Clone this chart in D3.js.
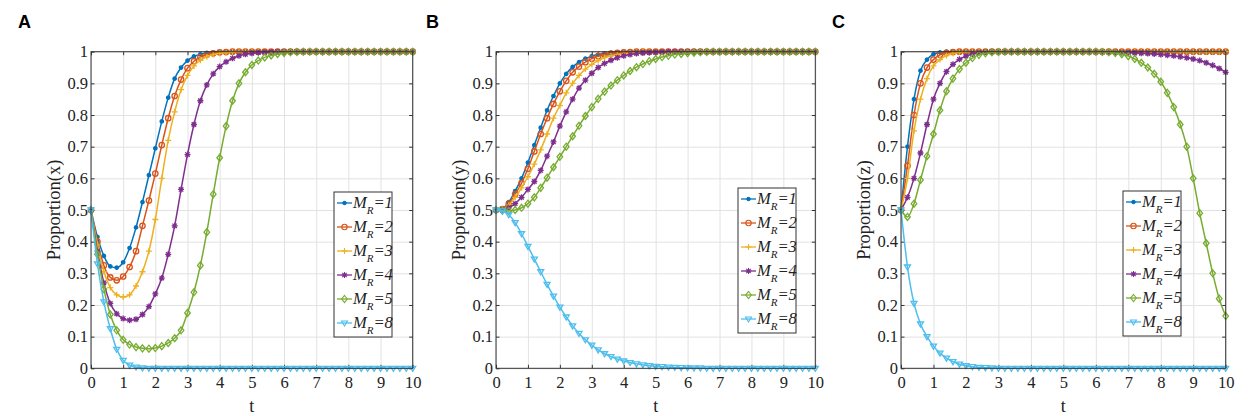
<!DOCTYPE html>
<html>
<head>
<meta charset="utf-8">
<script src="https://cdn.jsdelivr.net/npm/d3@7"></script>
<style>
  body { margin: 0; background: #fff; }
  svg { display: block; }
  .axis text { fill: #222; }
  .axis line { stroke: #333; }
  .axis .domain { display: none; }
  .grid line { stroke: #e2e2e2; }
  .grid .domain { display: none; }
</style>
</head>
<body>
<div id="chart"></div>
<script>
// time steps (t)
const T = [0,0.2,0.4,0.6,0.8,1,1.2,1.4,1.6,1.8,
  2,2.2,2.4,2.6,2.8,3,3.2,3.4,3.6,3.8,
  4,4.2,4.4,4.6,4.8,5,5.2,5.4,5.6,5.8,
  6,6.2,6.4,6.6,6.8,7,7.2,7.4,7.6,7.8,
  8,8.2,8.4,8.6,8.8,9,9.2,9.4,9.6,9.8,10];

const xTicks = [0,1,2,3,4,5,6,7,8,9,10];
const xTickLabels = ["0","1","2","3","4","5","6","7","8","9","10"];
const yTicks = [0,0.1,0.2,0.3,0.4,0.5,0.6,0.7,0.8,0.9,1];
const yTickLabels = ["0","0.1","0.2","0.3","0.4","0.5","0.6","0.7","0.8","0.9","1"];

const mrValues = ["1","2","3","4","5","8"];

// panel A : Proportion(x)
const A_M1 = [.5,.415,.355,.322,.318,.335,.38,.445,.525,.61,
  .695,.78,.855,.915,.95,.972,.985,.992,.996,.998,
  .999,1,1,1,1,1,1,1,1,1,
  1,1,1,1,1,1,1,1,1,1,
  1,1,1,1,1,1,1,1,1,1,1];
const A_M2 = [.5,.4,.325,.287,.278,.29,.32,.37,.45,.53,
  .615,.705,.79,.86,.912,.948,.97,.983,.991,.995,
  .998,.999,1,1,1,1,1,1,1,1,
  1,1,1,1,1,1,1,1,1,1,
  1,1,1,1,1,1,1,1,1,1,1];
const A_M3 = [.5,.39,.305,.255,.232,.225,.232,.26,.305,.37,
  .47,.6,.72,.81,.88,.925,.955,.973,.984,.991,
  .995,.997,.999,1,1,1,1,1,1,1,
  1,1,1,1,1,1,1,1,1,1,
  1,1,1,1,1,1,1,1,1,1,1];
const A_M4 = [.5,.37,.27,.205,.172,.157,.152,.155,.17,.195,
  .235,.285,.36,.45,.565,.675,.77,.845,.895,.93,
  .953,.968,.979,.987,.992,.995,.997,.998,.999,1,
  1,1,1,1,1,1,1,1,1,1,
  1,1,1,1,1,1,1,1,1,1,1];
const A_M5 = [.5,.36,.25,.17,.12,.09,.075,.067,.063,.062,
  .064,.07,.08,.095,.12,.175,.24,.325,.43,.55,
  .665,.765,.845,.9,.935,.958,.972,.982,.988,.993,
  .996,.998,.999,1,1,1,1,1,1,1,
  1,1,1,1,1,1,1,1,1,1,1];
const A_M8 = [.5,.33,.21,.125,.06,.025,.01,.004,.001,0,
  0,0,0,0,0,0,0,0,0,0,
  0,0,0,0,0,0,0,0,0,0,
  0,0,0,0,0,0,0,0,0,0,
  0,0,0,0,0,0,0,0,0,0,0];

// panel B : Proportion(y)
const B_M1 = [.5,.505,.525,.56,.6,.65,.705,.76,.815,.86,
  .9,.93,.952,.967,.978,.986,.991,.994,.996,.998,
  .999,1,1,1,1,1,1,1,1,1,
  1,1,1,1,1,1,1,1,1,1,
  1,1,1,1,1,1,1,1,1,1,1];
const B_M2 = [.5,.503,.52,.55,.585,.63,.685,.74,.79,.835,
  .875,.908,.935,.953,.967,.978,.986,.991,.994,.996,
  .998,.999,1,1,1,1,1,1,1,1,
  1,1,1,1,1,1,1,1,1,1,
  1,1,1,1,1,1,1,1,1,1,1];
const B_M3 = [.5,.502,.515,.54,.57,.605,.645,.69,.74,.79,
  .83,.87,.9,.925,.945,.96,.972,.981,.987,.991,
  .994,.996,.998,.999,1,1,1,1,1,1,
  1,1,1,1,1,1,1,1,1,1,
  1,1,1,1,1,1,1,1,1,1,1];
const B_M4 = [.5,.5,.507,.52,.54,.565,.59,.625,.67,.715,
  .765,.81,.85,.885,.91,.932,.95,.963,.973,.981,
  .987,.991,.994,.996,.997,.998,.999,1,1,1,
  1,1,1,1,1,1,1,1,1,1,
  1,1,1,1,1,1,1,1,1,1,1];
const B_M5 = [.5,.498,.497,.5,.507,.52,.54,.57,.602,.635,
  .668,.7,.733,.766,.797,.825,.851,.874,.893,.91,
  .925,.939,.951,.961,.97,.977,.983,.987,.991,.993,
  .995,.997,.998,.999,1,1,1,1,1,1,
  1,1,1,1,1,1,1,1,1,1,1];
const B_M8 = [.5,.497,.485,.46,.425,.385,.345,.305,.265,.228,
  .193,.162,.134,.11,.09,.073,.058,.046,.037,.029,
  .023,.018,.014,.011,.008,.006,.005,.004,.003,.002,
  .0015,.001,.001,0,0,0,0,0,0,0,
  0,0,0,0,0,0,0,0,0,0,0];

// panel C : Proportion(z)
const C_M1 = [.5,.7,.85,.94,.975,.992,.998,1,1,1,
  1,1,1,1,1,1,1,1,1,1,
  1,1,1,1,1,1,1,1,1,1,
  1,1,1,1,1,1,1,1,1,1,
  1,1,1,1,1,1,1,1,1,1,1];
const C_M2 = [.5,.64,.8,.9,.95,.975,.99,.996,.999,1,
  1,1,1,1,1,1,1,1,1,1,
  1,1,1,1,1,1,1,1,1,1,
  1,1,1,1,1,1,1,1,1,1,
  1,1,1,1,1,1,1,1,1,1,1];
const C_M3 = [.5,.6,.75,.85,.915,.955,.975,.988,.995,.998,
  1,1,1,1,1,1,1,1,1,1,
  1,1,1,1,1,1,1,1,1,1,
  1,1,1,1,1,1,1,1,1,1,
  1,1,1,1,1,1,1,1,1,1,1];
const C_M4 = [.5,.54,.6,.68,.77,.85,.9,.937,.96,.976,
  .986,.993,.997,.999,1,1,1,1,1,1,
  1,1,1,1,1,1,1,1,1,1,
  .999,.999,.998,.998,.997,.997,.996,.995,.994,.993,
  .991,.989,.987,.984,.981,.977,.972,.965,.957,.947,.935];
const C_M5 = [.5,.478,.52,.595,.67,.74,.815,.875,.915,.945,
  .965,.98,.99,.995,.998,.999,1,1,1,1,
  1,1,1,1,1,1,1,1,1,1,
  1,.999,.998,.996,.992,.986,.977,.965,.95,.93,
  .905,.87,.825,.77,.7,.6,.49,.395,.3,.22,.165];
const C_M8 = [.5,.32,.205,.14,.1,.07,.048,.032,.021,.013,
  .008,.005,.003,.002,.001,0,0,0,0,0,
  0,0,0,0,0,0,0,0,0,0,
  0,0,0,0,0,0,0,0,0,0,
  0,0,0,0,0,0,0,0,0,0,0];

// MATLAB default line colours and markers
const colors = ["#0072BD", "#D95319", "#EDB120", "#7E2F8E", "#77AC30", "#4DBEEE"];
const markerTypes = ["dot", "circle", "plus", "asterisk", "diamond", "triangleDown"];

const panels = [
  { letter: "A", yLabel: "Proportion(x)", series: [A_M1, A_M2, A_M3, A_M4, A_M5, A_M8],
    left: 91, right: 412.7, letterX: 18, legendX: 334, legendY: 192 },
  { letter: "B", yLabel: "Proportion(y)", series: [B_M1, B_M2, B_M3, B_M4, B_M5, B_M8],
    left: 496, right: 815.3, letterX: 426, legendX: 738, legendY: 188 },
  { letter: "C", yLabel: "Proportion(z)", series: [C_M1, C_M2, C_M3, C_M4, C_M5, C_M8],
    left: 901, right: 1225.7, letterX: 832, legendX: 1123, legendY: 191 },
];

const width = 1248, height = 416;
const plotTop = 51.7, plotBottom = 368.3;
const serif = "'Liberation Serif', 'Times New Roman', 'DejaVu Serif', serif";

function markerPath(type) {
  switch (type) {
    case "dot": return "M1.7,0A1.7,1.7 0 1,1 -1.7,0A1.7,1.7 0 1,1 1.7,0Z";
    case "circle": return "M2.7,0A2.7,2.7 0 1,1 -2.7,0A2.7,2.7 0 1,1 2.7,0Z";
    case "plus": return "M-3,0H3M0,-3V3";
    case "asterisk": return "M-3,0H3M0,-3V3M-2.2,-2.2L2.2,2.2M-2.2,2.2L2.2,-2.2";
    case "diamond": return "M0,-3.5L2.8,0L0,3.5L-2.8,0Z";
    case "triangleDown": return "M-3,-2L3,-2L0,3Z";
  }
}

const svg = d3.select("#chart")
  .append("svg")
  .attr("width", width)
  .attr("height", height)
  .attr("font-family", serif);

panels.forEach((p) => {
  const g = svg.append("g");

  const x = d3.scaleLinear().domain([0, 10]).range([p.left, p.right]);
  const y = d3.scaleLinear().domain([0, 1]).range([plotBottom, plotTop]);
  const plotW = p.right - p.left, plotH = plotBottom - plotTop;

  // grid
  g.append("g").attr("class", "grid")
    .attr("transform", `translate(0,${plotBottom})`)
    .call(d3.axisBottom(x).tickValues(xTicks).tickSize(-plotH).tickFormat(""));
  g.append("g").attr("class", "grid")
    .attr("transform", `translate(${p.left},0)`)
    .call(d3.axisLeft(y).tickValues(yTicks).tickSize(-plotW).tickFormat(""));

  // axes with inward ticks
  g.append("g").attr("class", "axis")
    .attr("transform", `translate(0,${plotBottom})`)
    .call(d3.axisBottom(x).tickValues(xTicks).tickSize(-3.5).tickPadding(8)
      .tickFormat((d, i) => xTickLabels[i]))
    .attr("font-family", serif)
    .attr("font-size", 16.5);
  g.append("g").attr("class", "axis")
    .attr("transform", `translate(${p.left},0)`)
    .call(d3.axisLeft(y).tickValues(yTicks).tickSize(-3.5).tickPadding(3)
      .tickFormat((d, i) => yTickLabels[i]))
    .attr("font-family", serif)
    .attr("font-size", 16.5);
  g.append("g").attr("class", "axis")
    .attr("transform", `translate(0,${plotTop})`)
    .call(d3.axisTop(x).tickValues(xTicks).tickSize(-3.5).tickFormat(""));
  g.append("g").attr("class", "axis")
    .attr("transform", `translate(${p.right},0)`)
    .call(d3.axisRight(y).tickValues(yTicks).tickSize(-3.5).tickFormat(""));

  // series
  const line = d3.line()
    .x((d, i) => x(T[i]))
    .y((d) => y(d))
    .curve(d3.curveMonotoneX);

  p.series.forEach((vals, k) => {
    const s = g.append("g");
    s.append("path")
      .attr("d", line(vals))
      .attr("fill", "none")
      .attr("stroke", colors[k])
      .attr("stroke-width", 1.5);
    s.selectAll("path.mk")
      .data(vals)
      .join("path")
      .attr("class", "mk")
      .attr("transform", (d, i) => `translate(${x(T[i])},${y(d)})`)
      .attr("d", markerPath(markerTypes[k]))
      .attr("fill", markerTypes[k] === "dot" ? colors[k] : "none")
      .attr("stroke", colors[k])
      .attr("stroke-width", 1.3);
  });

  // box
  g.append("rect")
    .attr("x", p.left).attr("y", plotTop)
    .attr("width", plotW).attr("height", plotH)
    .attr("fill", "none")
    .attr("stroke", "#333")
    .attr("stroke-width", 1);

  // axis labels
  g.append("text")
    .attr("transform", `translate(${p.left - 31},${(plotTop + plotBottom) / 2}) rotate(-90)`)
    .attr("text-anchor", "middle")
    .attr("font-family", serif)
    .attr("font-size", 18.5)
    .attr("fill", "#222")
    .text(p.yLabel);
  g.append("text")
    .attr("x", (p.left + p.right) / 2)
    .attr("y", plotBottom + 44)
    .attr("text-anchor", "middle")
    .attr("font-family", serif)
    .attr("font-size", 18)
    .attr("fill", "#222")
    .text("t");

  // panel letter
  svg.append("text")
    .attr("x", p.letterX)
    .attr("y", 28)
    .attr("font-family", "'Liberation Sans', Arial, sans-serif")
    .attr("font-weight", "bold")
    .attr("font-size", 18)
    .attr("fill", "#000")
    .text(p.letter);

  // legend
  const lg = g.append("g").attr("transform", `translate(${p.legendX},${p.legendY})`);
  lg.append("rect")
    .attr("width", 58).attr("height", 145)
    .attr("fill", "#fff")
    .attr("stroke", "#333")
    .attr("stroke-width", 1);
  mrValues.forEach((m, k) => {
    const row = lg.append("g").attr("transform", `translate(0,${11 + k * 24})`);
    row.append("line")
      .attr("x1", 3).attr("x2", 18)
      .attr("stroke", colors[k]).attr("stroke-width", 1.3);
    row.append("path")
      .attr("transform", "translate(10.5,0)")
      .attr("d", markerPath(markerTypes[k]))
      .attr("fill", markerTypes[k] === "dot" ? colors[k] : "none")
      .attr("stroke", colors[k])
      .attr("stroke-width", 1.1);
    const txt = row.append("text")
      .attr("x", 19)
      .attr("y", 5)
      .attr("font-family", serif)
      .attr("font-size", 16.5)
      .attr("font-style", "italic")
      .attr("fill", "#222");
    txt.append("tspan").text("M");
    txt.append("tspan").attr("dy", 6).attr("font-size", 11).text("R");
    txt.append("tspan").attr("dy", -6).text("=" + m);
  });
});
</script>
</body>
</html>
